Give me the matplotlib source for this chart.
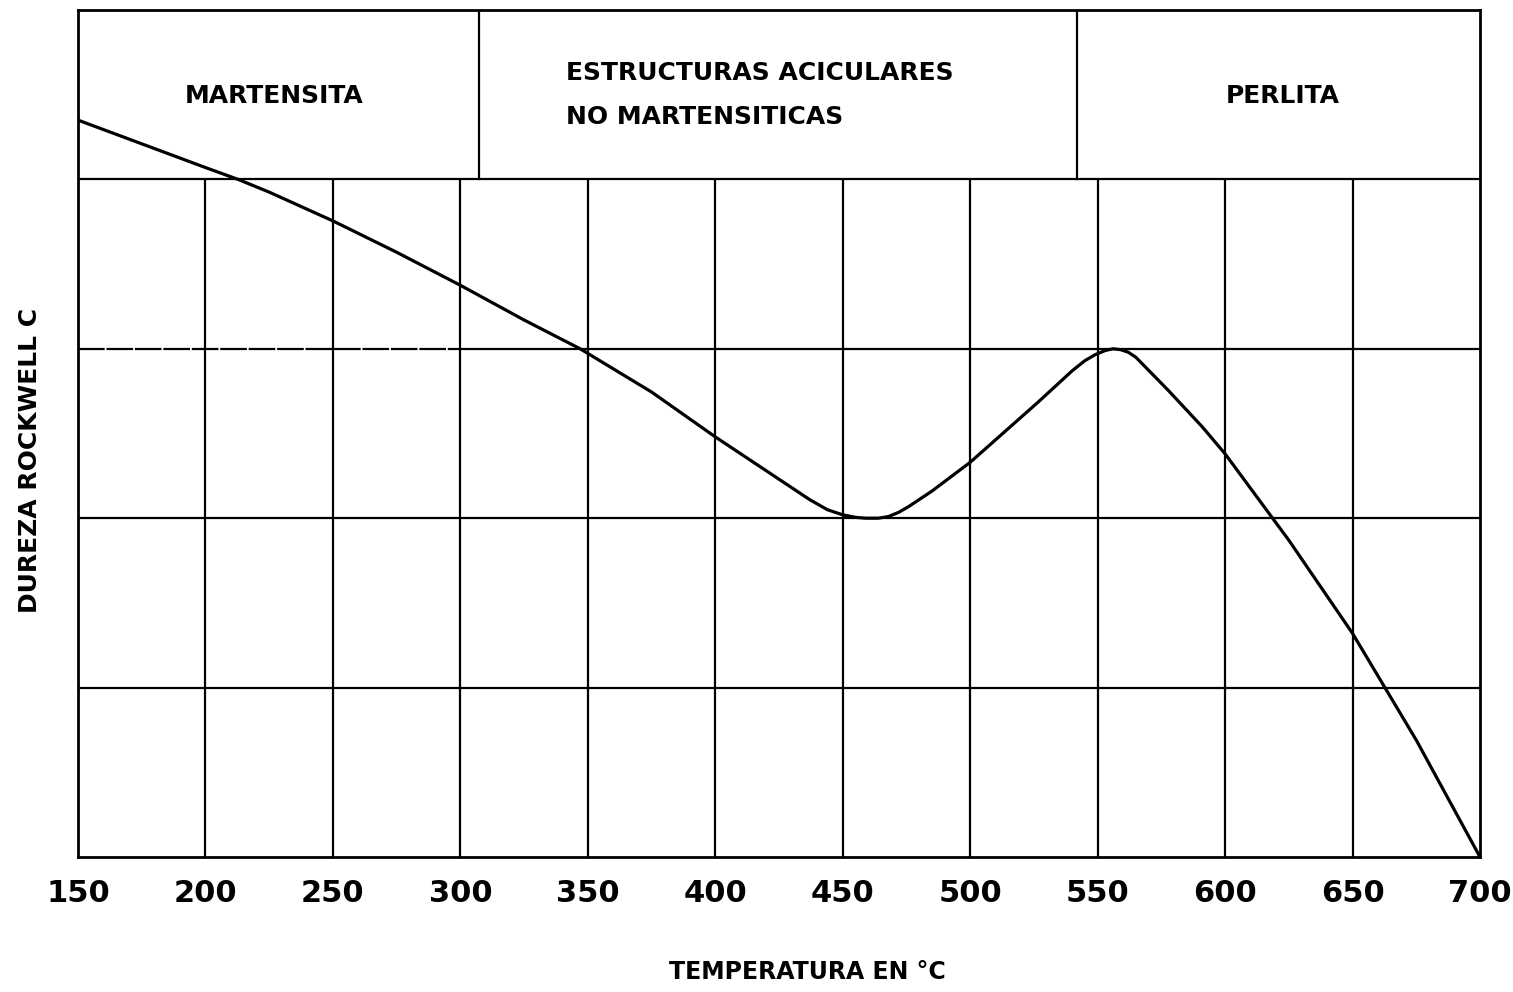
import matplotlib
matplotlib.use("Agg")
import matplotlib.pyplot as plt

# Data (hardness in grid units, 0 = bottom, each row = 1)
temperature = [150, 175, 200, 212.8, 225, 250, 275, 300, 325, 347, 375, 400, 420, 430,
               437, 444, 450, 455, 459, 464, 468, 472, 476, 485, 500, 527, 540, 545,
               549, 553, 556, 559, 562, 565, 578, 591, 600, 625, 650, 675, 700]
hardness = [4.35, 4.21, 4.07, 4.0, 3.925, 3.755, 3.57, 3.375, 3.17, 3.0, 2.745, 2.48, 2.28, 2.18,
            2.11, 2.05, 2.02, 2.005, 2.0, 2.0, 2.01, 2.035, 2.07, 2.16, 2.33, 2.69, 2.87, 2.93,
            2.965, 2.99, 3.0, 2.995, 2.98, 2.95, 2.75, 2.54, 2.38, 1.87, 1.32, 0.69, 0.0]

x_ticks = [150, 200, 250, 300, 350, 400, 450, 500, 550, 600, 650, 700]
v_grid = [200, 250, 300, 350, 400, 450, 500, 550, 600, 650]
h_grid = [1, 2, 4]
broken_line_y = 3
broken_line_split = 300
zone_dividers = [307.5, 542]
zone_labels = ["MARTENSITA", "ESTRUCTURAS ACICULARES\nNO MARTENSITICAS", "PERLITA"]

fig = plt.figure(figsize=(15.13, 9.92), dpi=100)
ax = fig.add_axes([78 / 1513, 1 - 857 / 992, (1480 - 78) / 1513, (857 - 10) / 992])
ax.set_xlim(150, 700)
ax.set_ylim(0, 5)

lw_grid = 1.6
for x in v_grid:
    ax.plot([x, x], [0, 4], color="black", lw=lw_grid, solid_capstyle="butt")
for y in h_grid:
    ax.axhline(y, color="black", lw=lw_grid)
# the y=3 line is broken on its left part in the scan
ax.plot([150, broken_line_split], [broken_line_y, broken_line_y], color="black",
        lw=lw_grid, dashes=(12, 0.8))
ax.plot([broken_line_split, 700], [broken_line_y, broken_line_y], color="black", lw=lw_grid)
for x in zone_dividers:
    ax.plot([x, x], [4, 5], color="black", lw=lw_grid)

ax.plot(temperature, hardness, color="black", lw=2.3, solid_joinstyle="round")

for s in ax.spines.values():
    s.set_linewidth(2.0)
    s.set_color("black")

# zone labels
ax.text(227, 4.49, zone_labels[0], ha="center", va="center", fontsize=18,
        fontweight="bold", family="DejaVu Sans")
ax.text(341.4, 4.50, zone_labels[1], ha="left", va="center", fontsize=18,
        fontweight="bold", family="DejaVu Sans", linespacing=2.05)
ax.text(622.7, 4.49, zone_labels[2], ha="center", va="center", fontsize=18,
        fontweight="bold", family="DejaVu Sans")

ax.set_xticks(x_ticks)
ax.set_xticklabels([str(t) for t in x_ticks],
                   fontdict={"family": "DejaVu Sans", "weight": "bold", "size": 22})
ax.tick_params(axis="x", length=0, pad=16)
ax.set_yticks([])

fig.text(807 / 1513, 1 - 972 / 992, "TEMPERATURA EN °C", ha="center", va="center",
         fontsize=17, fontweight="bold", family="DejaVu Sans")
fig.text(30 / 1513, 1 - 460 / 992, "DUREZA ROCKWELL C", ha="center", va="center",
         rotation=90, fontsize=18, fontweight="bold", family="DejaVu Sans")

fig.savefig("out.png", dpi=100, facecolor="white")
